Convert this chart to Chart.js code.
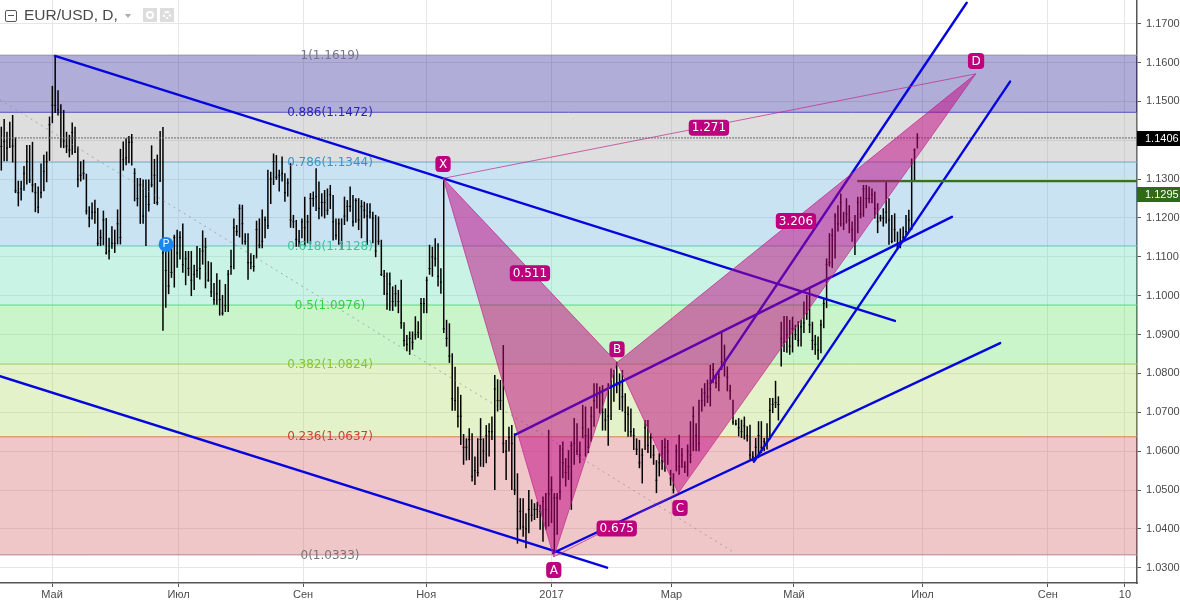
<!DOCTYPE html>
<html>
<head>
<meta charset="utf-8">
<title>EUR/USD, D</title>
<script src="https://cdn.jsdelivr.net/npm/chart.js@4"></script>
<style>
    body { margin: 0; background: #fff; overflow: hidden; }
    #wrap { position: relative; width: 1180px; height: 601px; }
    #c { display: block; }
    .hdr { position: absolute; }
    #title { left: 24px; top: 2px; font: 15.5px/26px "Liberation Sans", sans-serif; color: #4a4a4a; }
    #collapse { left: 5px; top: 10px; width: 10px; height: 10px; border: 1px solid #555; border-radius: 2px; }
    #collapse i { position: absolute; left: 2px; right: 2px; top: 4px; height: 1px; background: #555; }
    #caret { left: 125px; top: 14px; width: 0; height: 0; border: 3.5px solid transparent; border-top: 4px solid #aaa; }
    .btn { top: 8px; width: 14px; height: 14px; background: #ddd; }
    .btn i { position: absolute; left: 3px; top: 3px; width: 4px; height: 4px; border: 2px solid #fff; border-radius: 50%; }
</style>
</head>
<body>
<div id="wrap">
    <canvas id="c" width="1180" height="601"></canvas>
    <div class="hdr" id="collapse"><i></i></div>
    <div class="hdr" id="title">EUR/USD, D,</div>
    <div class="hdr" id="caret"></div>
    <div class="hdr btn" style="left:143px"><i></i></div>
    <div class="hdr btn" style="left:160px"><i style="border-style:dotted"></i></div>
</div>
<script>
// Daily bars
const barHigh = [
    1.1435,1.1455,1.1422,1.1448,1.1465,1.1408,1.1296,1.1296,1.1334,1.1388,
    1.1388,1.1396,1.1290,1.1281,1.1340,1.1363,1.1371,1.1461,1.1540,1.1617,
    1.1529,1.1493,1.1478,1.1422,1.1414,1.1446,1.1435,1.1384,1.1346,1.1350,
    1.1314,1.1230,1.1240,1.1247,1.1226,1.1170,1.1219,1.1200,1.1149,1.1179,
    1.1170,1.1222,1.1378,1.1397,1.1405,1.1411,1.1416,1.1328,1.1303,1.1303,
    1.1299,1.1299,1.1299,1.1387,1.1352,1.1363,1.1424,1.1434,1.1115,1.1115,
    1.1123,1.1157,1.1170,1.1166,1.1186,1.1115,1.1115,1.1115,1.1080,1.1128,
    1.1123,1.1168,1.1149,1.1089,1.1086,1.1033,1.1058,1.1041,1.1002,1.1030,
    1.1066,1.1118,1.1199,1.1182,1.1235,1.1234,1.1161,1.1161,1.1109,1.1105,
    1.1193,1.1199,1.1222,1.1204,1.1324,1.1319,1.1366,1.1362,1.1324,1.1358,
    1.1315,1.1302,1.1341,1.1208,1.1195,1.1169,1.1199,1.1255,1.1208,1.1264,
    1.1268,1.1328,1.1294,1.1264,1.1272,1.1276,1.1285,1.1259,1.1199,1.1199,
    1.1199,1.1255,1.1246,1.1281,1.1259,1.1251,1.1251,1.1246,1.1242,1.1238,
    1.1238,1.1216,1.1208,1.1204,1.1144,1.1066,1.1060,1.1060,1.1024,1.1028,
    1.1015,1.1041,1.0932,1.0899,1.0908,1.0908,1.0947,1.0934,1.0994,1.0994,
    1.1049,1.1131,1.1126,1.1148,1.1135,1.1071,1.1298,1.0938,1.0929,1.0852,
    1.0817,1.0766,1.0745,1.0644,1.0633,1.0659,1.0646,1.0586,1.0633,1.0685,
    1.0633,1.0667,1.0672,1.0689,1.0796,1.0785,1.0783,1.0873,1.0629,1.0663,
    1.0667,1.0646,1.0543,1.0479,1.0479,1.0440,1.0500,1.0476,1.0466,1.0470,
    1.0462,1.0483,1.0492,1.0655,1.0535,1.0492,1.0492,1.0616,1.0625,1.0582,
    1.0603,1.0625,1.0685,1.0672,1.0625,1.0719,1.0715,1.0659,1.0715,1.0775,
    1.0775,1.0766,1.0770,1.0710,1.0775,1.0813,1.0809,1.0830,1.0800,1.0809,
    1.0749,1.0715,1.0710,1.0659,1.0633,1.0629,1.0607,1.0680,1.0680,1.0646,
    1.0616,1.0577,1.0595,1.0629,1.0633,1.0629,1.0552,1.0543,1.0617,1.0642,
    1.0608,1.0574,1.0617,1.0677,1.0715,1.0672,1.0732,1.0762,1.0775,1.0784,
    1.0822,1.0827,1.0797,1.0809,1.0908,1.0874,1.0818,1.0771,1.0732,1.0681,
    1.0685,1.0681,1.0689,1.0664,1.0668,1.0600,1.0634,1.0677,1.0677,1.0634,
    1.0672,1.0737,1.0737,1.0781,1.0741,1.0933,1.0948,1.0948,1.0938,1.0946,
    1.0925,1.0934,1.0938,1.0985,1.1002,1.1023,1.0933,1.0899,1.0895,1.0938,
    1.0994,1.1096,1.1161,1.1173,1.1212,1.1233,1.1263,1.1216,1.1251,1.1233,
    1.1191,1.1208,1.1255,1.1255,1.1285,1.1285,1.1281,1.1276,1.1268,1.1238,
    1.1208,1.1225,1.1293,1.1251,1.1208,1.1212,1.1165,1.1173,1.1178,1.1208,
    1.1221,1.1353,1.1379,1.1418
];
const barLow = [
    1.1322,1.1346,1.1346,1.1380,1.1343,1.1264,1.1230,1.1245,1.1270,1.1286,
    1.1290,1.1266,1.1215,1.1212,1.1251,1.1269,1.1292,1.1347,1.1444,1.1470,
    1.1464,1.1381,1.1380,1.1367,1.1356,1.1363,1.1367,1.1279,1.1294,1.1299,
    1.1209,1.1176,1.1196,1.1185,1.1128,1.1128,1.1130,1.1106,1.1093,1.1121,
    1.1110,1.1132,1.1132,1.1322,1.1336,1.1341,1.1335,1.1243,1.1230,1.1185,
    1.1185,1.1128,1.1217,1.1279,1.1236,1.1233,1.1293,1.0910,1.0969,1.1004,
    1.1046,1.1021,1.1072,1.1093,1.1059,1.1027,1.1051,1.0999,1.1015,1.1046,
    1.1042,1.1080,1.1019,1.1036,1.0997,1.0977,1.0977,1.0949,1.0949,1.0958,
    1.0958,1.1054,1.1068,1.1154,1.1150,1.1132,1.1131,1.1041,1.1068,1.1062,
    1.1096,1.1122,1.1122,1.1148,1.1172,1.1236,1.1285,1.1298,1.1268,1.1294,
    1.1242,1.1255,1.1175,1.1174,1.1126,1.1126,1.1148,1.1126,1.1135,1.1132,
    1.1229,1.1218,1.1197,1.1204,1.1199,1.1208,1.1223,1.1142,1.1144,1.1131,
    1.1118,1.1182,1.1191,1.1216,1.1178,1.1188,1.1169,1.1148,1.1199,1.1131,
    1.1199,1.1135,1.1099,1.1131,1.1051,1.1002,1.0964,1.0961,1.0961,1.0972,
    1.0955,1.0915,1.0869,1.0857,1.0848,1.0861,1.0887,1.0891,1.0887,1.0955,
    1.0955,1.1054,1.1049,1.1075,1.1024,1.1005,1.0904,1.0869,1.0827,1.0704,
    1.0704,1.0661,1.0616,1.0565,1.0576,1.0577,1.0522,1.0513,1.0535,1.0560,
    1.0559,1.0569,1.0586,1.0629,1.0500,1.0702,1.0706,1.0595,1.0526,1.0599,
    1.0500,1.0487,1.0362,1.0398,1.0380,1.0350,1.0389,1.0419,1.0423,1.0428,
    1.0398,1.0367,1.0398,1.0406,1.0415,1.0340,1.0385,1.0475,1.0530,1.0509,
    1.0526,1.0449,1.0565,1.0590,1.0569,1.0633,1.0586,1.0595,1.0625,1.0663,
    1.0710,1.0697,1.0653,1.0653,1.0614,1.0680,1.0727,1.0749,1.0706,1.0702,
    1.0650,1.0637,1.0637,1.0603,1.0590,1.0556,1.0517,1.0603,1.0595,1.0582,
    1.0565,1.0492,1.0535,1.0552,1.0547,1.0565,1.0511,1.0491,1.0548,1.0539,
    1.0557,1.0544,1.0535,1.0569,1.0600,1.0600,1.0600,1.0702,1.0715,1.0724,
    1.0715,1.0775,1.0762,1.0754,1.0809,1.0792,1.0754,1.0732,1.0668,1.0666,
    1.0638,1.0634,1.0630,1.0625,1.0578,1.0574,1.0578,1.0582,1.0595,1.0600,
    1.0604,1.0630,1.0698,1.0711,1.0679,1.0818,1.0855,1.0853,1.0848,1.0854,
    1.0886,1.0869,1.0869,1.0904,1.0938,1.0904,1.0860,1.0848,1.0835,1.0852,
    1.0916,1.0968,1.1075,1.1071,1.1096,1.1165,1.1178,1.1169,1.1186,1.1161,
    1.1139,1.1105,1.1161,1.1199,1.1203,1.1225,1.1238,1.1238,1.1199,1.1161,
    1.1191,1.1178,1.1186,1.1131,1.1135,1.1139,1.1118,1.1122,1.1139,1.1156,
    1.1165,1.1169,1.1293,1.1379
];
const barClose = [
    1.1384,1.1397,1.1380,1.1405,1.1385,1.1270,1.1265,1.1275,1.1315,1.1345,
    1.1298,1.1285,1.1265,1.1228,1.1265,1.1320,1.1345,1.1440,1.1490,1.1490,
    1.1478,1.1405,1.1398,1.1385,1.1375,1.1420,1.1370,1.1300,1.1310,1.1315,
    1.1218,1.1200,1.1215,1.1215,1.1135,1.1150,1.1195,1.1110,1.1115,1.1135,
    1.1135,1.1185,1.1150,1.1350,1.1355,1.1395,1.1395,1.1315,1.1250,1.1285,
    1.1205,1.1255,1.1235,1.1285,1.1310,1.1240,1.1295,1.1110,1.1065,1.1025,
    1.1060,1.1150,1.1110,1.1150,1.1080,1.1095,1.1070,1.1040,1.1055,1.1065,
    1.1070,1.1115,1.1125,1.1040,1.1010,1.0990,1.1005,1.0990,1.0955,1.0975,
    1.1055,1.1075,1.1175,1.1165,1.1225,1.1185,1.1140,1.1085,1.1085,1.1075,
    1.1170,1.1130,1.1140,1.1195,1.1180,1.1300,1.1345,1.1305,1.1310,1.1315,
    1.1265,1.1290,1.1195,1.1190,1.1145,1.1140,1.1190,1.1175,1.1190,1.1250,
    1.1250,1.1255,1.1225,1.1240,1.1240,1.1220,1.1260,1.1190,1.1155,1.1185,
    1.1135,1.1205,1.1230,1.1230,1.1190,1.1245,1.1195,1.1230,1.1220,1.1205,
    1.1215,1.1200,1.1115,1.1140,1.1055,1.1050,1.1005,1.1030,1.0985,1.1005,
    1.0985,1.0930,1.0885,1.0875,1.0890,1.0880,1.0900,1.0905,1.0980,1.0980,
    1.1040,1.1070,1.1100,1.1095,1.1050,1.1035,1.0915,1.0890,1.0845,1.0735,
    1.0730,1.0690,1.0690,1.0610,1.0610,1.0630,1.0535,1.0550,1.0545,1.0630,
    1.0600,1.0640,1.0650,1.0650,1.0760,1.0730,1.0730,1.0620,1.0600,1.0635,
    1.0620,1.0500,1.0400,1.0445,1.0405,1.0400,1.0450,1.0435,1.0450,1.0450,
    1.0445,1.0470,1.0450,1.0490,1.0500,1.0480,1.0480,1.0495,1.0570,1.0545,
    1.0560,1.0615,1.0620,1.0600,1.0590,1.0660,1.0640,1.0610,1.0690,1.0730,
    1.0740,1.0750,1.0700,1.0680,1.0690,1.0780,1.0770,1.0775,1.0770,1.0740,
    1.0700,1.0695,1.0650,1.0640,1.0605,1.0570,1.0590,1.0660,1.0615,1.0635,
    1.0590,1.0525,1.0570,1.0575,1.0610,1.0600,1.0530,1.0500,1.0600,1.0560,
    1.0590,1.0560,1.0600,1.0590,1.0690,1.0640,1.0620,1.0730,1.0750,1.0740,
    1.0760,1.0810,1.0775,1.0790,1.0830,1.0825,1.0790,1.0755,1.0675,1.0670,
    1.0660,1.0650,1.0665,1.0640,1.0590,1.0585,1.0610,1.0640,1.0610,1.0625,
    1.0625,1.0705,1.0720,1.0725,1.0720,1.0890,1.0880,1.0900,1.0870,1.0915,
    1.0900,1.0885,1.0920,1.0930,1.0955,1.0925,1.0885,1.0875,1.0860,1.0925,
    1.0980,1.1080,1.1085,1.1155,1.1205,1.1185,1.1240,1.1185,1.1210,1.1195,
    1.1170,1.1135,1.1240,1.1210,1.1275,1.1250,1.1250,1.1260,1.1225,1.1190,
    1.1200,1.1200,1.1215,1.1195,1.1140,1.1170,1.1125,1.1135,1.1150,1.1165,
    1.1195,1.1340,1.1375,1.1406
];

// Axes
const priceTicks = [1.03, 1.04, 1.05, 1.06, 1.07, 1.08, 1.09, 1.10, 1.11, 1.12, 1.13, 1.14, 1.15, 1.16, 1.17];
const timeTicks = [17.9, 62.5, 106.4, 149.8, 194, 236.3, 279.5, 324.8, 369, 396.2];
const timeLabels = ['Май', 'Июл', 'Сен', 'Ноя', '2017', 'Мар', 'Май', 'Июл', 'Сен', '10'];

// Fibonacci levels
const fibRatios = ['1', '0.886', '0.786', '0.618', '0.5', '0.382', '0.236', '0'];
const fibPrices = [1.1619, 1.1472, 1.1344, 1.1128, 1.0976, 1.0824, 1.0637, 1.0333];
const fibFills = ['rgba(29,23,143,.35)', 'rgba(161,161,161,.35)', 'rgba(104,175,218,.35)', 'rgba(100,224,181,.35)',
    'rgba(104,224,104,.35)', 'rgba(175,218,98,.35)', 'rgba(212,95,100,.35)', 'transparent'];
const fibLines = ['#8f8c9c', '#5e58c4', '#6aa8c8', '#66c8b0', '#5ed860', '#a0d060', '#e06a58', '#a89a9c'];
const fibText = ['#77758a', '#2d28b8', '#3d94c4', '#3cc49c', '#3ccf3c', '#8cc432', '#d0403a', '#77757a'];

// Trend lines: [start x, end x], [start price, end price]
const trendX = [[18.9, 315.1], [-0.46, 213.6], [194.5, 352.2], [181.1, 335.2], [250.1, 340.4], [265.4, 355.7]];
const trendY = [[1.1617, 1.0935], [1.0793, 1.03], [1.0338, 1.0878], [1.0642, 1.1203], [1.0775, 1.1754], [1.0573, 1.1551]];

// Dotted diagonal
const diagX = [-0.46, 258.7];
const diagY = [1.1504, 1.0338];

// Harmonic pattern X A B C D
const patternX = [155.8, 194.8, 217.1, 238.7, 343.6];
const patternY = [1.1302, 1.0328, 1.0828, 1.0492, 1.1571];

const tagText = ['X', 'A', 'B', 'C', 'D', '0.511', '3.206', '1.271', '0.675'];
const tagX = [155.75, 194.8, 217.1, 239.3, 343.7, 186.4, 280.2, 249.5, 217];
const tagY = [1.1339, 1.0294, 1.0862, 1.0454, 1.1604, 1.1058, 1.1192, 1.1432, 1.0401];

const lastPrice = 1.1406;
const greenPrice = 1.1295;
const greenStart = 301.8;

const xMin = -0.46, xMax = 400.45;
const yMin = 1.02607, yMax = 1.1761;

const toPoints = (xs, ys) => xs.map((x, i) => ({ x: x, y: ys[i] }));

const lineSet = (xs, ys, opts) => Object.assign({
    type: 'line',
    data: toPoints(xs, ys),
    pointRadius: 0,
    fill: false,
    tension: 0
}, opts);

const datasets = [];

// fib bands, each filled down to the next level
fibPrices.forEach((p, i) => {
    datasets.push(lineSet([xMin, xMax], [p, p], {
        borderColor: fibLines[i],
        borderWidth: 1,
        backgroundColor: fibFills[i],
        fill: i < fibPrices.length - 1 ? '+1' : false,
        order: 50
    }));
});

datasets.push({
    type: 'bar',
    data: barHigh.map((h, i) => ({ x: i, y: [barLow[i], h] })),
    backgroundColor: '#000',
    barThickness: 1.5,
    inflateAmount: 0,
    order: 40
});

// close ticks
datasets.push(lineSet(barClose.map((c, i) => i), barClose, {
    showLine: false,
    pointStyle: 'line',
    pointRadius: 1,
    pointBorderColor: '#000',
    pointBorderWidth: 1,
    order: 39
}));

datasets.push(lineSet(diagX, diagY, { borderColor: 'rgba(130,130,130,.6)', borderWidth: 1, borderDash: [2, 4], order: 38 }));
datasets.push(lineSet([xMin, xMax], [lastPrice, lastPrice], { borderColor: '#666', borderWidth: 1, borderDash: [2, 1], order: 37 }));

trendX.forEach((xs, i) => {
    datasets.push(lineSet(xs, trendY[i], { borderColor: '#0505df', borderWidth: 2.4, borderCapStyle: 'round', order: 30 }));
});

datasets.push(lineSet([greenStart, xMax], [greenPrice, greenPrice], { borderColor: '#38701c', borderWidth: 2.4, order: 29 }));

// pattern triangles X-A-B and B-C-D
const triangle = (a, b, c) => lineSet(
    [patternX[a], patternX[b], patternX[c], patternX[a]],
    [patternY[a], patternY[b], patternY[c], patternY[a]],
    { borderColor: 'rgba(190,40,140,.7)', borderWidth: 1, backgroundColor: 'rgba(192,0,128,.5)', fill: 'shape', order: 20 }
);
datasets.push(triangle(0, 1, 2));
datasets.push(triangle(2, 3, 4));
datasets.push(lineSet([patternX[0], patternX[4]], [patternY[0], patternY[4]], { borderColor: 'rgba(190,40,140,.7)', borderWidth: 1, order: 19 }));
datasets.push(lineSet([patternX[1], patternX[3]], [patternY[1], patternY[3]], { borderColor: 'rgba(190,40,140,.7)', borderWidth: 1, order: 19 }));

// the scales ask for room around their edge labels, we want the plot flush to the window
const noEdgePadding = axis => {
    axis.paddingLeft = 0;
    axis.paddingRight = 0;
    axis.paddingTop = 0;
    axis.paddingBottom = 0;
};

// text on the chart: fib labels, pattern tags, P marker, price boxes
const overlayPlugin = {
    id: 'overlay',
    afterDraw(chart) {
        const ctx = chart.ctx;
        const x = chart.scales.x;
        const y = chart.scales.y;
        ctx.save();
        ctx.textBaseline = 'middle';
        ctx.textAlign = 'center';

        ctx.font = '12px "DejaVu Sans"';
        fibPrices.forEach((p, i) => {
            ctx.fillStyle = fibText[i];
            ctx.fillText(fibRatios[i] + '(' + p.toFixed(4) + ')', 330, y.getPixelForValue(p) + 0.5);
        });

        ctx.font = '12px "DejaVu Sans"';
        tagText.forEach((t, i) => {
            const w = ctx.measureText(t).width + (t.length > 1 ? 6 : 7);
            const px = x.getPixelForValue(tagX[i]);
            const py = y.getPixelForValue(tagY[i]);
            ctx.fillStyle = '#bd007e';
            ctx.beginPath();
            ctx.roundRect(px - w / 2, py - 8, w, 16, 4);
            ctx.fill();
            ctx.fillStyle = '#fff';
            ctx.fillText(t, px, py + 0.5);
        });

        // P marker
        const px = x.getPixelForValue(58.1);
        const py = y.getPixelForValue(1.1132);
        ctx.fillStyle = '#1a86f2';
        ctx.beginPath();
        ctx.arc(px, py, 7.5, 0, Math.PI * 2);
        ctx.fill();
        ctx.fillStyle = '#fff';
        ctx.font = '10px "Liberation Sans"';
        ctx.fillText('P', px, py);

        // price boxes on the axis
        const right = x.right;
        ctx.font = '11px "Liberation Sans"';
        ctx.fillStyle = '#000';
        ctx.fillRect(right, 131, 43, 15);
        ctx.fillStyle = '#2e6b14';
        ctx.fillRect(right, 187, 43, 15);
        ctx.fillStyle = '#fff';
        ctx.textAlign = 'left';
        ctx.fillText(lastPrice.toFixed(4), right + 8, 138.5);
        ctx.fillText(greenPrice.toFixed(4), right + 8, 194.5);
        ctx.restore();
    }
};

new Chart(document.getElementById('c'), {
    type: 'line',
    data: { datasets: datasets },
    plugins: [overlayPlugin],
    options: {
        responsive: false,
        animation: false,
        events: [],
        layout: { padding: 0, autoPadding: false },
        plugins: { legend: { display: false }, tooltip: { enabled: false } },
        scales: {
            x: {
                type: 'linear',
                min: xMin,
                max: xMax,
                offset: false,
                afterBuildTicks: axis => { axis.ticks = timeTicks.map(v => ({ value: v })); },
                afterFit: axis => { axis.height = 18; noEdgePadding(axis); },
                grid: { color: '#e6e6e6', tickColor: '#555', tickLength: 4, offset: false },
                border: { color: '#555', width: 1.5 },
                ticks: {
                    autoSkip: false,
                    maxRotation: 0,
                    padding: 1,
                    color: '#4a4a4a',
                    font: { family: '"Liberation Sans"', size: 11 },
                    callback: value => timeLabels[timeTicks.indexOf(value)]
                }
            },
            y: {
                position: 'right',
                min: yMin,
                max: yMax,
                afterBuildTicks: axis => { axis.ticks = priceTicks.map(v => ({ value: v })); },
                afterFit: axis => { axis.width = 43; noEdgePadding(axis); },
                grid: { color: '#e6e6e6', tickColor: '#555', tickLength: 4 },
                border: { color: '#555', width: 1.5 },
                ticks: {
                    padding: 5,
                    color: '#4a4a4a',
                    font: { family: '"Liberation Sans"', size: 11 },
                    callback: value => value.toFixed(4)
                }
            }
        }
    }
});
</script>
</body>
</html>
